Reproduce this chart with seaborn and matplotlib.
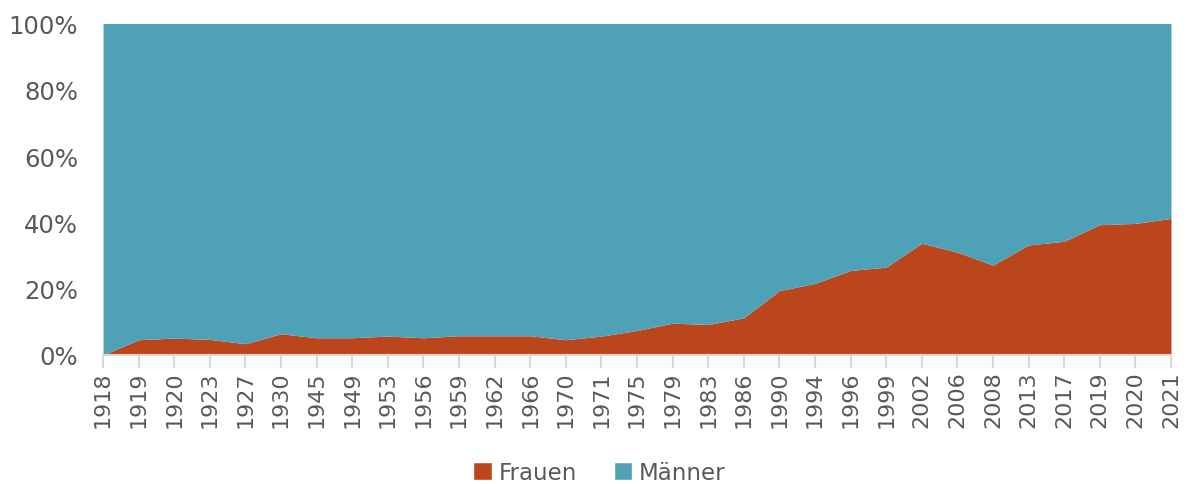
import matplotlib
matplotlib.use("Agg")
import matplotlib.pyplot as plt
from matplotlib.patches import Patch
from matplotlib.ticker import PercentFormatter
import numpy as np
import pandas as pd
import seaborn as sns

# Data (share of women in parliament)
years = ['1918', '1919', '1920', '1923', '1927', '1930', '1945', '1949', '1953', '1956',
         '1959', '1962', '1966', '1970', '1971', '1975', '1979', '1983', '1986', '1990',
         '1994', '1996', '1999', '2002', '2006', '2008', '2013', '2017', '2019', '2020', '2021']
frauen = [0.0, 4.6, 5.1, 4.7, 3.4, 6.4, 5.2, 5.2, 5.7, 5.2,
          5.8, 5.8, 5.8, 4.6, 5.7, 7.4, 9.6, 9.2, 11.2, 19.4,
          21.6, 25.5, 26.5, 33.7, 31.0, 27.1, 33.2, 34.3, 39.3, 39.7, 41.2]
maenner = [100 - f for f in frauen]

df = pd.DataFrame({'Jahr': years, 'Frauen': frauen, 'Männer': maenner})

sns.set_theme(style='white')
plt.rcParams['font.family'] = ['DejaVu Sans']

colors = {'Frauen': '#BC461C', 'Männer': '#4FA1B8'}
text_color = '#595959'

fig = plt.figure(figsize=(11.87, 4.85), dpi=100)
ax = fig.add_axes([0.0868, 0.266, 0.8997, 0.6835])

x = np.arange(len(df))
ax.stackplot(x, df['Frauen'], df['Männer'],
             colors=[colors['Frauen'], colors['Männer']], linewidth=0)

ax.set_xlim(0, len(df) - 1)
ax.set_ylim(0, 100)
ax.set_xticks(x)
ax.set_xticklabels(df['Jahr'], rotation=90)
ax.set_yticks([0, 20, 40, 60, 80, 100])
ax.yaxis.set_major_formatter(PercentFormatter(decimals=0))

ax.tick_params(axis='x', colors='#d9d9d9', labelcolor=text_color, labelsize=16,
               length=9, width=1.5, direction='out', bottom=True, pad=2)
ax.tick_params(axis='y', labelcolor=text_color, labelsize=17.5, length=0, pad=18)

for side in ['top', 'right', 'left']:
    ax.spines[side].set_visible(False)
ax.spines['bottom'].set_color('#d9d9d9')
ax.spines['bottom'].set_linewidth(1.5)
ax.set_xlabel('')
ax.set_ylabel('')

handles = [Patch(facecolor=colors['Frauen'], label='Frauen'),
           Patch(facecolor=colors['Männer'], label='Männer')]
fig.legend(handles=handles, loc='center', bbox_to_anchor=(0.505, 0.024), ncol=2,
           frameon=False, fontsize=16.5, labelcolor=text_color,
           handlelength=0.8, handleheight=0.8, handletextpad=0.3, columnspacing=1.6)

fig.savefig('out.png', dpi=100)
